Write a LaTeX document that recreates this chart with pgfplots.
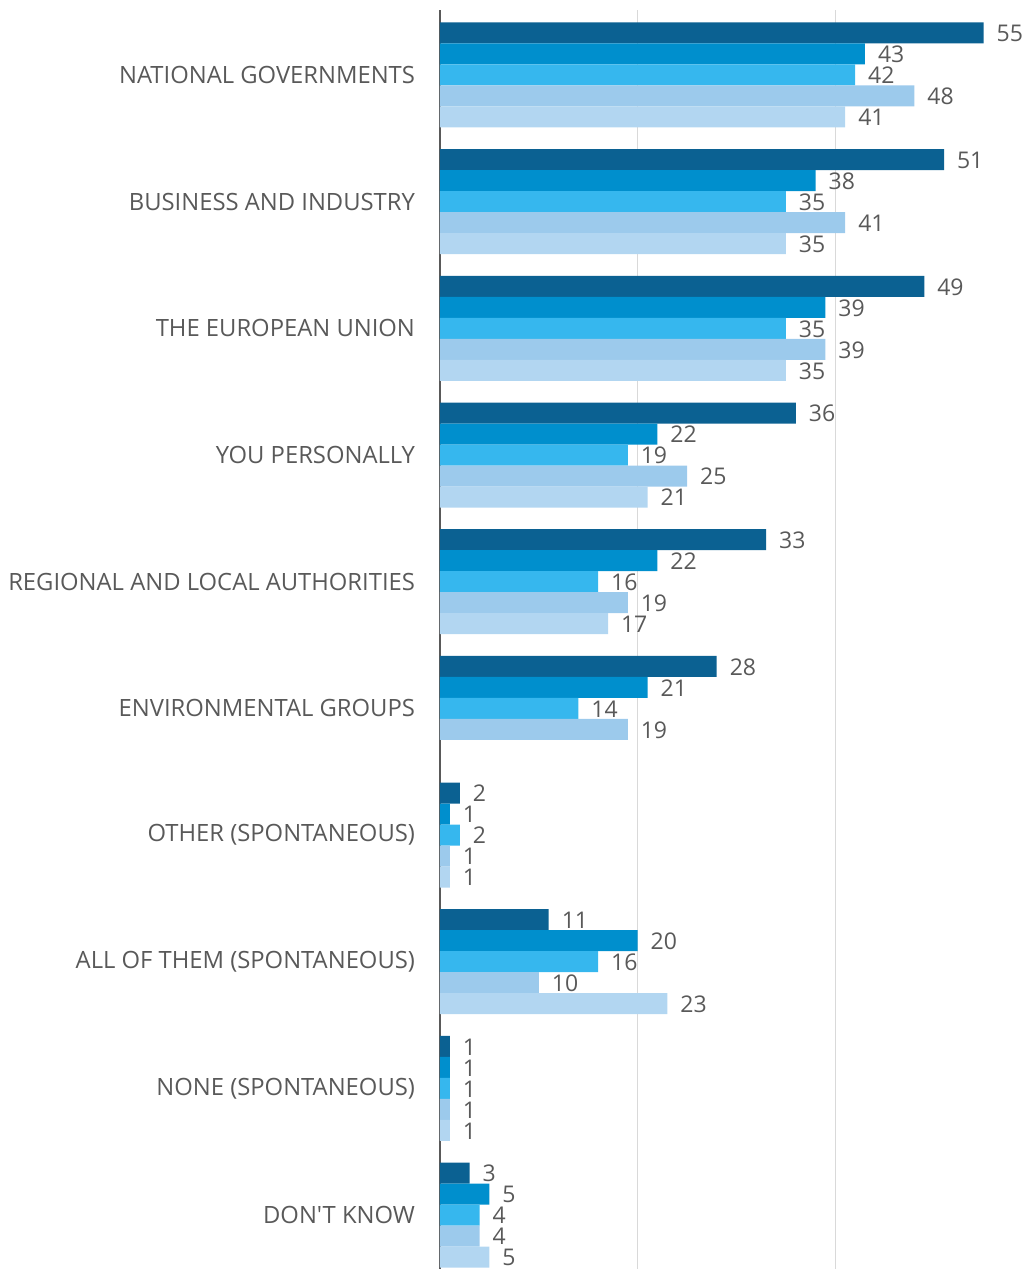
\documentclass[border=0pt]{standalone}
\usepackage{fontspec}
\setmainfont{Open Sans}[Ligatures=TeXOff]
\usepackage{pgfplots}
\pgfplotsset{compat=1.18}

\definecolor{sone}{HTML}{0B6192}
\definecolor{stwo}{HTML}{008FCD}
\definecolor{sthree}{HTML}{36B7EE}
\definecolor{sfour}{HTML}{9CCAEC}
\definecolor{sfive}{HTML}{B2D6F1}
\definecolor{txt}{HTML}{595959}
\definecolor{gridc}{HTML}{D9D9D9}

\begin{document}
\begin{tikzpicture}
    \begin{axis}[
        at={(0,0)}, anchor=south west,
        scale only axis,
        width=295pt, height=629.5pt,
        xmin=0, xmax=59.7,
        ymin=-0.513, ymax=9.426,
        y dir=reverse,
        axis lines*=left,
        x axis line style={draw=none},
        y axis line style={draw=txt, line width=0.8pt},
        xtick={20,40}, xticklabels={},
        xmajorgrids, grid style={gridc, line width=0.6pt},
        ytick={0,...,9},
        yticklabels={NATIONAL GOVERNMENTS, BUSINESS AND INDUSTRY, THE EUROPEAN UNION,
            YOU PERSONALLY, REGIONAL AND LOCAL AUTHORITIES, ENVIRONMENTAL GROUPS,
            OTHER (SPONTANEOUS), ALL OF THEM (SPONTANEOUS), NONE (SPONTANEOUS), DON'T KNOW},
        yticklabel style={font=\fontsize{11.9}{14}\selectfont, text=txt, xshift=-9pt},
        major tick length=0pt,
        /pgf/number format/assume math mode=true,
        xbar, bar width=0.1658,
        clip=false,
        nodes near coords,
        nodes near coords style={font=\fontsize{11.5}{14}\selectfont, text=txt,
            anchor=west, xshift=3pt, yshift=-0.3pt},
        every axis plot/.append style={draw=none},
    ]
        \addplot[fill=sone, bar shift=-0.3316] coordinates {
            (55,0) (51,1) (49,2) (36,3) (33,4) (28,5) (2,6) (11,7) (1,8) (3,9)};
        \addplot[fill=stwo, bar shift=-0.1658] coordinates {
            (43,0) (38,1) (39,2) (22,3) (22,4) (21,5) (1,6) (20,7) (1,8) (5,9)};
        \addplot[fill=sthree, bar shift=0] coordinates {
            (42,0) (35,1) (35,2) (19,3) (16,4) (14,5) (2,6) (16,7) (1,8) (4,9)};
        \addplot[fill=sfour, bar shift=0.1658] coordinates {
            (48,0) (41,1) (39,2) (25,3) (19,4) (19,5) (1,6) (10,7) (1,8) (4,9)};
        \addplot[fill=sfive, bar shift=0.3316] coordinates {
            (41,0) (35,1) (35,2) (21,3) (17,4) (1,6) (23,7) (1,8) (5,9)};
    \end{axis}
    \pgfresetboundingbox
    \path[use as bounding box] (-220pt,0) rectangle (295pt,634.5pt);
\end{tikzpicture}
\end{document}
